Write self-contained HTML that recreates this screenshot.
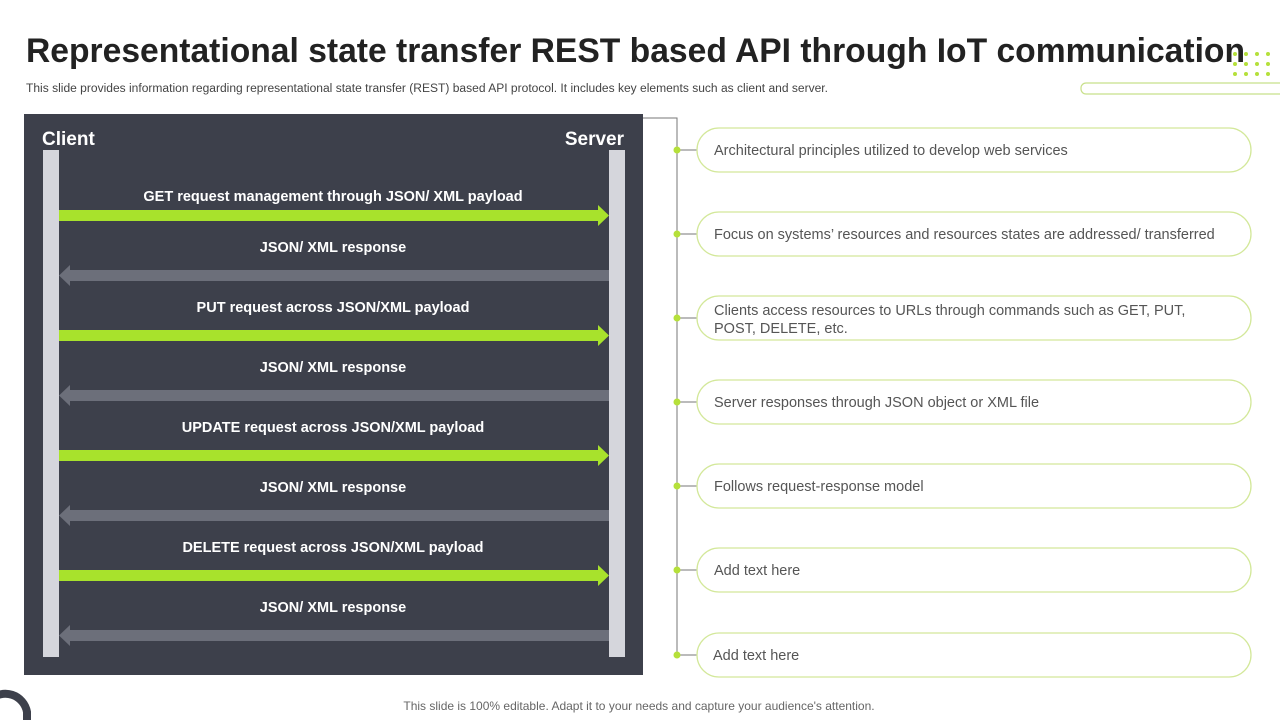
<!DOCTYPE html>
<html><head><meta charset="utf-8"><style>
html,body{margin:0;padding:0;background:#fff;}
svg{display:block;}
text{font-family:"Liberation Sans",sans-serif;}
</style></head><body>
<svg width="1280" height="720" viewBox="0 0 1280 720" xmlns="http://www.w3.org/2000/svg">
<rect width="1280" height="720" fill="#fff"/>
<text x="26" y="62" font-size="34" font-weight="bold" fill="#222" textLength="1219" lengthAdjust="spacingAndGlyphs">Representational state transfer REST based API through IoT communication</text>
<text x="26" y="92" font-size="11.5" fill="#444" textLength="802" lengthAdjust="spacingAndGlyphs">This slide provides information regarding representational state transfer (REST) based API protocol. It includes key elements such as client and server.</text>
<g fill="#b5e03a">
<circle cx="1235" cy="54" r="2"/><circle cx="1246" cy="54" r="2"/><circle cx="1257" cy="54" r="2"/><circle cx="1268" cy="54" r="2"/>
<circle cx="1235" cy="64" r="2"/><circle cx="1246" cy="64" r="2"/><circle cx="1257" cy="64" r="2"/><circle cx="1268" cy="64" r="2"/>
<circle cx="1235" cy="74" r="2"/><circle cx="1246" cy="74" r="2"/><circle cx="1257" cy="74" r="2"/><circle cx="1268" cy="74" r="2"/>
</g>
<rect x="1081" y="83" width="220" height="11" rx="5" fill="none" stroke="#c8e08a" stroke-width="1.2"/>
<rect x="24" y="114" width="619" height="561" fill="#3d404b"/>
<text x="42" y="145" font-size="19" font-weight="bold" fill="#fff">Client</text>
<text x="624" y="145" font-size="19" font-weight="bold" fill="#fff" text-anchor="end">Server</text>
<rect x="43" y="150" width="16" height="507" fill="#d5d6dc"/>
<rect x="609" y="150" width="16" height="507" fill="#d5d6dc"/>
<g font-size="14.5" font-weight="bold" fill="#fff" text-anchor="middle">
<text x="333" y="201">GET request management through JSON/ XML payload</text>
<text x="333" y="252">JSON/ XML response</text>
<text x="333" y="312">PUT request across JSON/XML payload</text>
<text x="333" y="372">JSON/ XML response</text>
<text x="333" y="432">UPDATE request across JSON/XML payload</text>
<text x="333" y="492">JSON/ XML response</text>
<text x="333" y="552">DELETE request across JSON/XML payload</text>
<text x="333" y="612">JSON/ XML response</text>
</g>
<g fill="#a8e22c">
<polygon points="59,210 598,210 598,205 609,215.5 598,226 598,221 59,221"/>
<polygon points="59,330 598,330 598,325 609,335.5 598,346 598,341 59,341"/>
<polygon points="59,450 598,450 598,445 609,455.5 598,466 598,461 59,461"/>
<polygon points="59,570 598,570 598,565 609,575.5 598,586 598,581 59,581"/>
</g>
<g fill="#6c6f7a">
<polygon points="609,270 70,270 70,265 59,275.5 70,286 70,281 609,281"/>
<polygon points="609,390 70,390 70,385 59,395.5 70,406 70,401 609,401"/>
<polygon points="609,510 70,510 70,505 59,515.5 70,526 70,521 609,521"/>
<polygon points="609,630 70,630 70,625 59,635.5 70,646 70,641 609,641"/>
</g>
<path d="M643 118 H677 V655" fill="none" stroke="#777" stroke-width="1"/>
<g stroke="#777" stroke-width="1">
<line x1="677" y1="150" x2="697" y2="150"/><line x1="677" y1="234" x2="697" y2="234"/>
<line x1="677" y1="318" x2="697" y2="318"/><line x1="677" y1="402" x2="697" y2="402"/>
<line x1="677" y1="486" x2="697" y2="486"/><line x1="677" y1="570" x2="697" y2="570"/>
<line x1="677" y1="655" x2="697" y2="655"/>
</g>
<g fill="#b5e03a">
<circle cx="677" cy="150" r="3.5"/><circle cx="677" cy="234" r="3.5"/><circle cx="677" cy="318" r="3.5"/>
<circle cx="677" cy="402" r="3.5"/><circle cx="677" cy="486" r="3.5"/><circle cx="677" cy="570" r="3.5"/><circle cx="677" cy="655" r="3.5"/>
</g>
<g fill="#fff" stroke="#d3e89a" stroke-width="1.3">
<rect x="697" y="128" width="554" height="44" rx="22"/>
<rect x="697" y="212" width="554" height="44" rx="22"/>
<rect x="697" y="296" width="554" height="44" rx="22"/>
<rect x="697" y="380" width="554" height="44" rx="22"/>
<rect x="697" y="464" width="554" height="44" rx="22"/>
<rect x="697" y="548" width="554" height="44" rx="22"/>
<rect x="697" y="633" width="554" height="44" rx="22"/>
</g>
<g font-size="14.5" fill="#555">
<text x="714" y="155">Architectural principles utilized to develop web services</text>
<text x="714" y="239">Focus on systems’ resources and resources states are addressed/ transferred</text>
<text x="714" y="315">Clients access resources to URLs through commands such as GET, PUT,</text>
<text x="714" y="333">POST, DELETE, etc.</text>
<text x="714" y="407">Server responses through JSON object or XML file</text>
<text x="714" y="491">Follows request-response model</text>
<text x="714" y="575">Add text here</text>
<text x="713" y="660">Add text here</text>
</g>
<path d="M-10 700 A22 22 0 0 1 27 712 L27 720" fill="none" stroke="#3d404b" stroke-width="8"/>
<text x="639" y="710" font-size="12" fill="#666" text-anchor="middle">This slide is 100% editable. Adapt it to your needs and capture your audience's attention.</text>
</svg>
</body></html>
